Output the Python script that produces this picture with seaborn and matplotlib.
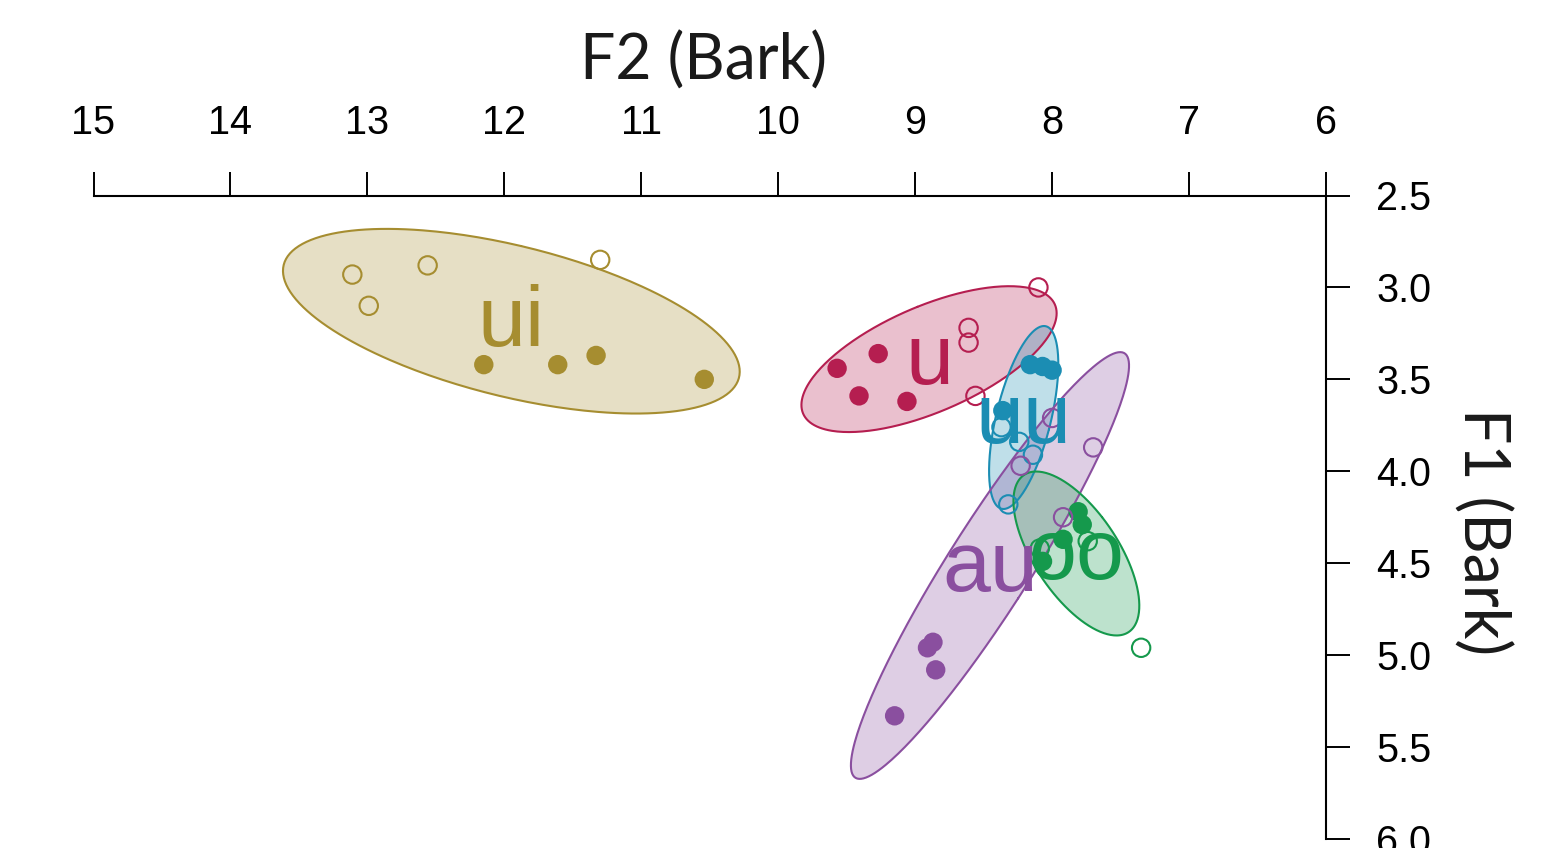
import numpy as np
import pandas as pd
import matplotlib
matplotlib.use("Agg")
import matplotlib.pyplot as plt
import seaborn as sns

# ---------------- data (Bark) ----------------
vowels = ["ui", "u", "uu", "au", "oo"]
colors = ["#A68D30", "#B51E50", "#1B8DB3", "#8A4F9F", "#15994C"]

ui_f2_open = [13.11, 12.56, 12.99, 11.30]
ui_f1_open = [2.93, 2.88, 3.10, 2.85]
ui_f2_fill = [12.15, 11.61, 11.33, 10.54]
ui_f1_fill = [3.42, 3.42, 3.37, 3.50]

u_f2_open = [8.10, 8.61, 8.61, 8.56]
u_f1_open = [3.00, 3.22, 3.30, 3.59]
u_f2_fill = [9.57, 9.27, 9.41, 9.06]
u_f1_fill = [3.44, 3.36, 3.59, 3.62]

uu_f2_open = [8.37, 8.24, 8.14, 8.32]
uu_f1_open = [3.76, 3.84, 3.91, 4.18]
uu_f2_fill = [8.16, 8.07, 8.00, 8.36]
uu_f1_fill = [3.42, 3.43, 3.45, 3.67]

au_f2_open = [7.70, 8.23, 8.00, 7.92]
au_f1_open = [3.87, 3.97, 3.71, 4.25]
au_f2_fill = [8.87, 8.91, 8.85, 9.15]
au_f1_fill = [4.93, 4.96, 5.08, 5.33]

oo_f2_open = [7.74, 7.35, 8.09]
oo_f1_open = [4.38, 4.96, 4.42]
oo_f2_fill = [7.81, 7.78, 7.92, 8.07]
oo_f1_fill = [4.22, 4.29, 4.37, 4.49]

x_ticks = [15, 14, 13, 12, 11, 10, 9, 8, 7, 6]
y_ticks = [2.5, 3.0, 3.5, 4.0, 4.5, 5.0, 5.5, 6.0]
x_title = "F2 (Bark)"
y_title = "F1 (Bark)"

# ---------------- build table ----------------
src = {
    "ui": (ui_f2_open, ui_f1_open, ui_f2_fill, ui_f1_fill),
    "u": (u_f2_open, u_f1_open, u_f2_fill, u_f1_fill),
    "uu": (uu_f2_open, uu_f1_open, uu_f2_fill, uu_f1_fill),
    "au": (au_f2_open, au_f1_open, au_f2_fill, au_f1_fill),
    "oo": (oo_f2_open, oo_f1_open, oo_f2_fill, oo_f1_fill),
}
rows = []
for v in vowels:
    f2o, f1o, f2f, f1f = src[v]
    rows += [dict(vowel=v, F2=a, F1=b, kind="open") for a, b in zip(f2o, f1o)]
    rows += [dict(vowel=v, F2=a, F1=b, kind="filled") for a, b in zip(f2f, f1f)]
df = pd.DataFrame(rows)
palette = dict(zip(vowels, colors))

# ---------------- figure ----------------
sns.set_theme(style="ticks")
plt.rcParams["font.family"] = ["Liberation Sans", "DejaVu Sans"]

W, H = 1557, 848
fig = plt.figure(figsize=(W / 100, H / 100), dpi=100)
ax_l, ax_r, ax_t, ax_b = 93.5, 1326, 195.5, 839
ax = fig.add_axes([ax_l / W, 1 - ax_b / H, (ax_r - ax_l) / W, (ax_b - ax_t) / H])
ax.set_facecolor("white")
fig.patch.set_facecolor("white")

# ellipses from covariance
k = 1.84
t = np.linspace(0, 2 * np.pi, 300)
for v, c in zip(vowels, colors):
    sub = df[df.vowel == v]
    pts = sub[["F2", "F1"]].to_numpy()
    mu = pts.mean(axis=0)
    cov = np.cov(pts.T)
    vals, vecs = np.linalg.eigh(cov)
    circ = np.vstack([np.cos(t), np.sin(t)])
    ell = vecs @ (np.sqrt(vals)[:, None] * circ) * k
    ex, ey = ell[0] + mu[0], ell[1] + mu[1]
    ax.fill(ex, ey, facecolor=c, alpha=0.28, edgecolor="none", zorder=1)
    ax.plot(ex, ey, color=c, lw=1.5, zorder=2)

# points
sns.scatterplot(data=df[df.kind == "filled"], x="F2", y="F1", hue="vowel",
                palette=palette, s=195, linewidth=0, legend=False, ax=ax, zorder=3)
sns.scatterplot(data=df[df.kind == "open"], x="F2", y="F1", hue="vowel",
                palette=palette, s=175, legend=False, ax=ax, zorder=3)
coll = ax.collections[-1]
fc = coll.get_facecolors()
coll.set_edgecolors(fc)
coll.set_facecolors("none")
coll.set_linewidth(1.5)

# vowel labels at means
fs_lab = 62
for v, c in zip(vowels, colors):
    sub = df[df.vowel == v]
    ax.annotate(v, (sub.F2.mean(), sub.F1.mean()), xytext=(0, -0.519 * fs_lab / 2 - 2),
                textcoords="offset points", ha="center", va="baseline",
                fontsize=fs_lab, color=c, zorder=4)

# axes
ax.set_xlim(15, 6)
ax.set_ylim(6, 2.5)
ax.set_xticks(x_ticks)
ax.set_xticklabels([str(v) for v in x_ticks])
ax.set_yticks(y_ticks)
ax.set_yticklabels([f"{v:.1f}" for v in y_ticks])
ax.xaxis.tick_top()
ax.yaxis.tick_right()
ax.tick_params(axis="x", direction="out", length=17.3, width=1.4, pad=21.5,
               labelsize=28.5, colors="black")
ax.tick_params(axis="y", direction="out", length=17.3, width=1.4, pad=19,
               labelsize=28.5, colors="black")
for s in ["left", "bottom"]:
    ax.spines[s].set_visible(False)
for s in ["top", "right"]:
    ax.spines[s].set_visible(True)
    ax.spines[s].set_linewidth(1.5)
    ax.spines[s].set_color("black")
ax.set_xlabel("")
ax.set_ylabel("")
ax.grid(False)

fig.text(704 / W, 1 - 61 / H, x_title, ha="center", va="center",
         fontsize=45, family=["Lato", "DejaVu Sans"], color="#1a1a1a")
fig.text(1482 / W, 1 - 532 / H, y_title, ha="center", va="center", rotation=270,
         fontsize=45, family=["Lato", "DejaVu Sans"], color="#1a1a1a")

fig.savefig("out.png", dpi=100, facecolor="white")
